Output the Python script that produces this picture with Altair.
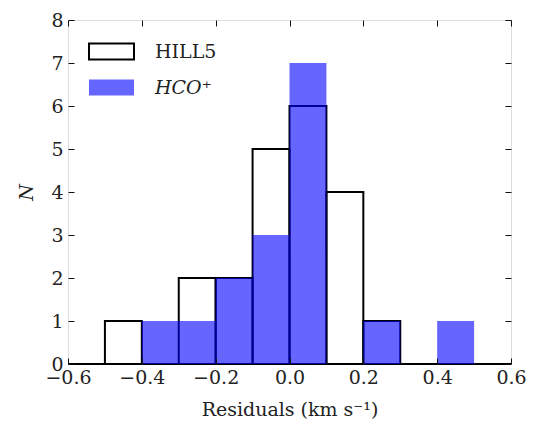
import altair as alt
import pandas as pd

# histogram bins (left edges), width 0.1
bin_lo = [-0.6, -0.5, -0.4, -0.3, -0.2, -0.1, 0.0, 0.1, 0.2, 0.3, 0.4, 0.5]
bin_hi = [-0.5, -0.4, -0.3, -0.2, -0.1, 0.0, 0.1, 0.2, 0.3, 0.4, 0.5, 0.6]
hill5_counts = [0, 1, 0, 2, 2, 5, 6, 4, 1, 0, 0, 0]
hco_counts = [0, 0, 1, 1, 2, 3, 7, 0, 1, 0, 1, 0]
series_names = ["HILL5", "HCO⁺"]
x_ticks = [-0.6, -0.4, -0.2, 0.0, 0.2, 0.4, 0.6]
y_ticks = [0, 1, 2, 3, 4, 5, 6, 7, 8]

FONT = "DejaVu Serif"

df_h = pd.DataFrame({"lo": bin_lo, "hi": bin_hi, "n": hill5_counts, "series": series_names[0]})
df_c = pd.DataFrame({"lo": bin_lo, "hi": bin_hi, "n": hco_counts, "series": series_names[1]})

legend = alt.Legend(
    title=None,
    orient="none",
    legendX=20,
    legendY=8,
    symbolType="M-1,-0.36H1V0.36H-1Z",
    symbolSize=2025,
    symbolStrokeWidth=2,
    labelFont=FONT,
    labelFontSize=19,
    labelOffset=20,
    labelColor="#222",
    rowPadding=-12,
    labelFontStyle={"expr": "datum.label == 'HCO⁺' ? 'italic' : 'normal'"},
)

fill = alt.Fill("series:N", scale=alt.Scale(domain=series_names, range=["transparent", "blue"]), legend=legend)
stroke = alt.Stroke("series:N", scale=alt.Scale(domain=series_names, range=["black", "transparent"]), legend=legend)
opacity = alt.Opacity("series:N", scale=alt.Scale(domain=series_names, range=[1, 0.6]), legend=legend)

xscale = alt.Scale(domain=[-0.6, 0.6], nice=False, zero=False)
yscale = alt.Scale(domain=[0, 8], nice=False)

common_axis = dict(
    domain=False, grid=False, labelFlush=False, labelOverlap=False,
    tickSize=6, offset=-6, tickColor="#111", tickWidth=1,
    labelFont=FONT, labelFontSize=19, labelColor="#222", zindex=1,
    titleFont=FONT, titleFontSize=19, titleColor="#222", titleFontWeight="normal",
)

hill = alt.Chart(df_h).mark_rect(strokeWidth=2).encode(
    x=alt.X("lo:Q", scale=xscale,
            axis=alt.Axis(orient="bottom", values=x_ticks, format=".1f", labelPadding=4,
                          title="Residuals (km s⁻¹)", titlePadding=13, **common_axis)),
    x2="hi:Q",
    y=alt.Y("n:Q", scale=yscale,
            axis=alt.Axis(orient="left", values=y_ticks, format="d", labelPadding=5,
                          title="N", titleFontStyle="italic", titlePadding=14, **common_axis)),
    y2=alt.datum(0),
    fill=fill, stroke=stroke, opacity=opacity,
)

hco = alt.Chart(df_c).mark_rect(strokeWidth=0).encode(
    x=alt.X("lo:Q", scale=xscale,
            axis=alt.Axis(orient="top", values=x_ticks, labels=False, title=None, **common_axis)),
    x2="hi:Q",
    y=alt.Y("n:Q", scale=yscale,
            axis=alt.Axis(orient="right", values=y_ticks, labels=False, title=None, **common_axis)),
    y2=alt.datum(0),
    fill=fill, stroke=stroke, opacity=opacity,
)

chart = alt.layer(hill, hco).resolve_axis(x="independent", y="independent").properties(
    width=443, height=344,
    autosize=alt.AutoSizeParams(type="none"),
    padding={"left": 60, "top": 12, "right": 16, "bottom": 61},
).configure_view(stroke="#222", strokeWidth=1).configure(background="white")

chart.save("out.html", embed_options={"renderer": "svg", "actions": False})
